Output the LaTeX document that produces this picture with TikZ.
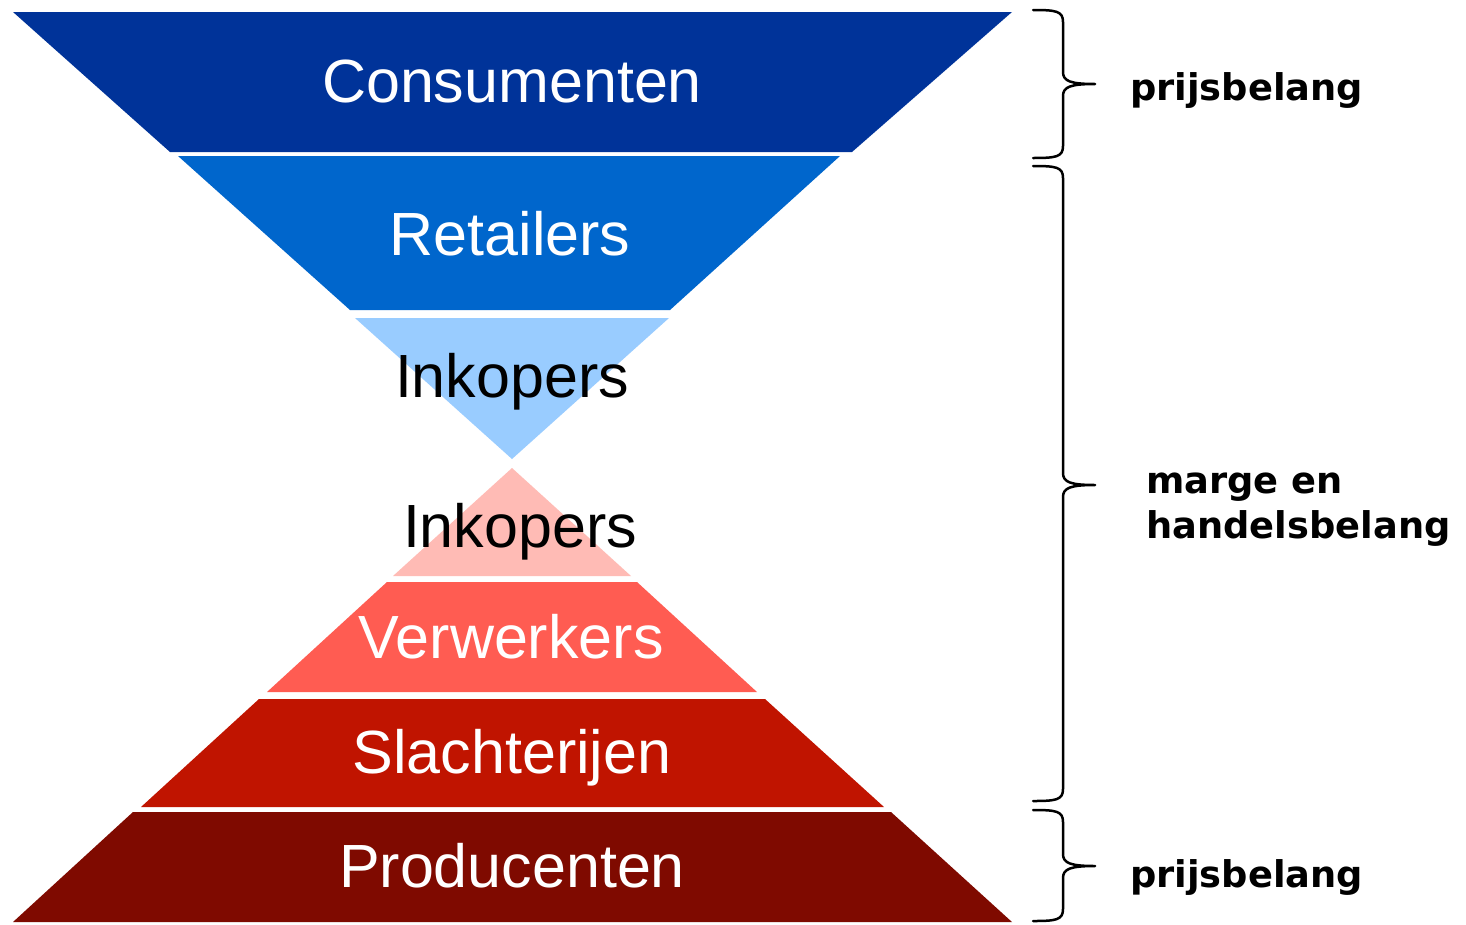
\documentclass[tikz,border=0pt]{standalone}
\usepackage{fontspec}
\setmainfont{Liberation Sans}
\newfontfamily\lblfont{DejaVu Sans}
\definecolor{cDarkBlue}{RGB}{0,51,153}
\definecolor{cBlue}{RGB}{0,102,204}
\definecolor{cLightBlue}{RGB}{153,204,255}
\definecolor{cPink}{RGB}{255,187,181}
\definecolor{cSalmon}{RGB}{255,92,82}
\definecolor{cRed}{RGB}{192,20,0}
\definecolor{cDarkRed}{RGB}{127,10,0}
\newcommand\curlyR[3]{%
  \draw[bracestyle] (1033,#1) .. controls (1056,#1) and (1063,{#1+1}) .. (1063,{#1+12})
    -- (1063,{#2-12}) .. controls (1063,{#2-3}) and (1070,#2) .. (1095,#2)
    .. controls (1070,#2) and (1063,{#2+3}) .. (1063,{#2+12})
    -- (1063,{#3-12}) .. controls (1063,{#3-1}) and (1056,#3) .. (1033,#3);}
\begin{document}
\begin{tikzpicture}[x=1pt,y=-1pt,
  bandtext/.style={anchor=base,inner sep=0pt,text=white,font=\fontsize{61}{70}\selectfont},
  darktext/.style={bandtext,text=black},
  lbl/.style={anchor=base west,inner sep=0pt,font=\lblfont\bfseries\fontsize{36.8}{44}\selectfont},
  bracestyle/.style={line width=2.5pt,black,line cap=round,line join=round}]
\useasboundingbox (0,0) rectangle (1466,924);
\fill[white] (0,0) rectangle (1466,924);
% top funnel
\fill[cDarkBlue] (13,12) -- (1012,12) -- (852,152) -- (170,152) -- cycle;
\fill[cBlue] (178,156) -- (840,156) -- (670,310) -- (350,310) -- cycle;
\fill[cLightBlue] (355,318) -- (669,318) -- (512,459) -- cycle;
% bottom pyramid
\fill[cPink] (512,468) -- (631,576) -- (393,576) -- cycle;
\fill[cSalmon] (387,582) -- (637,582) -- (757,692) -- (267,692) -- cycle;
\fill[cRed] (259,699) -- (765,699) -- (884,807) -- (141,807) -- cycle;
\fill[cDarkRed] (133,812) -- (891,812) -- (1012,922) -- (13,922) -- cycle;
% band labels
\node[bandtext] (cons) at (512,102) {Consumenten};
\node[bandtext] (ret) at (510,255) {Retailers};
\node[darktext] (ink1) at (512,397) {Inkopers};
\node[darktext] (ink2) at (520,547) {Inkopers};
\node[bandtext] (verw) at (511,658) {Verwerkers};
\node[bandtext] (slach) at (512,773) {Slachterijen};
\node[bandtext] (prod) at (512,887) {Producenten};
% braces
\curlyR{10}{84}{158}
\curlyR{166}{485}{801}
\curlyR{810}{866}{921}
% side labels
\node[lbl] (pb1) at (1130,100) {prijsbelang};
\node[lbl] (mh1) at (1146,493) {marge en};
\node[lbl] (mh2) at (1146,538) {handelsbelang};
\node[lbl] (pb2) at (1130,887) {prijsbelang};
\end{tikzpicture}
\end{document}
